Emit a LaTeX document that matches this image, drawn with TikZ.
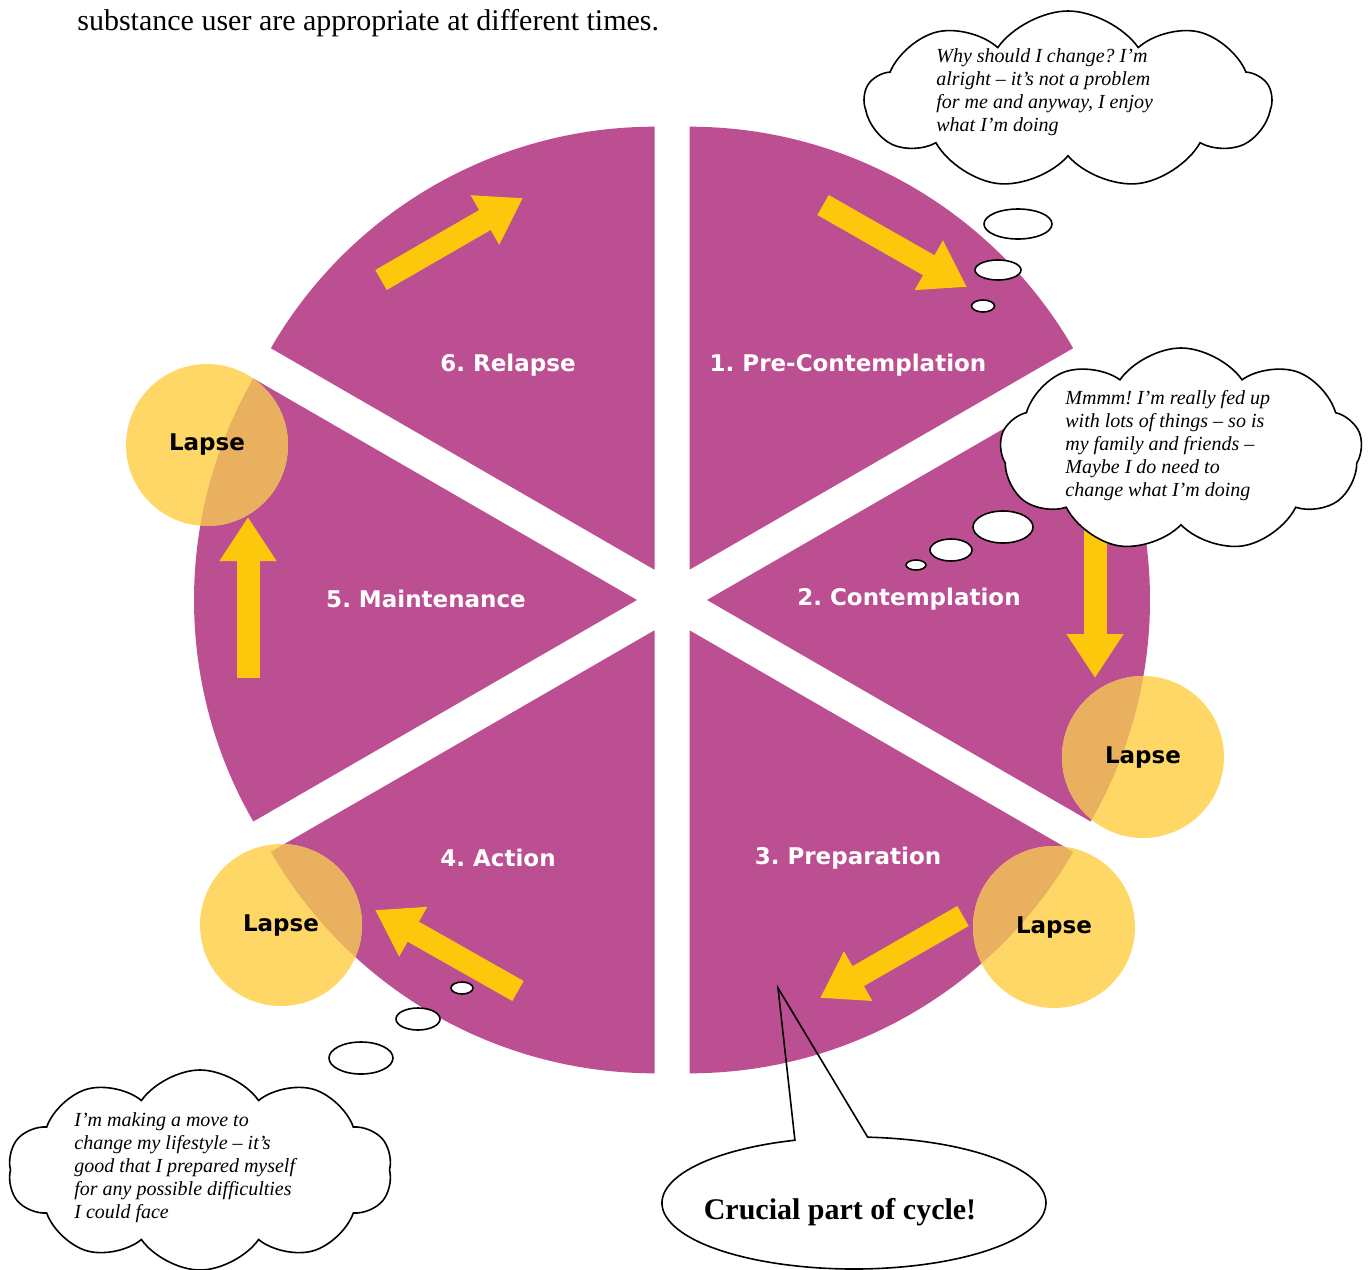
\documentclass[tikz,border=0pt]{standalone}
\usepackage{fontspec}
\setmainfont{Liberation Serif}
\newfontfamily\stagefont{DejaVu Sans}
\usetikzlibrary{arrows.meta,shapes.symbols,shapes.callouts}
\definecolor{stagepink}{RGB}{188,79,145}
\definecolor{arrowgold}{RGB}{253,200,12}
\definecolor{lapseyellow}{RGB}{254,215,102}
\definecolor{lapseover}{RGB}{233,176,95}
\frenchspacing

\begin{document}
\begin{tikzpicture}[x=0.5pt,y=0.5pt,
  wedge/.style={insert path={([shift={(#1:35)}]672,-600) -- ++(#1+30:443) arc[start angle=#1+30,end angle=#1-30,radius=443] -- cycle}},
  stagelabel/.style={text=white,font=\stagefont\bfseries\fontsize{11.5}{13}\selectfont},
  cyclearrow/.style={draw=arrowgold,line width=11.5pt,-{Triangle[length=22pt,width=27pt]}},
  lapse/.style={circle,minimum size=81pt,inner sep=0pt,font=\stagefont\bfseries\fontsize{11.5}{13}\selectfont},
  thought/.style={cloud,draw,fill=white,line width=0.8pt,cloud ignores aspect,cloud puffs=9,cloud puff arc=110},
  bubble/.style={draw,fill=white,line width=0.8pt},
  saying/.style={anchor=north west,inner sep=0pt,align=left,font=\itshape\fontsize{10}{11.5}\selectfont},
]
\useasboundingbox (0,0) rectangle (1372,-1270);
\node[anchor=base west,inner sep=0pt,font=\fontsize{15}{17}\selectfont] (intro) at (77,-30) {substance user are appropriate at different times.};

\foreach \b in {60,0,-60,-120,180,120} \fill[stagepink,wedge=\b];

\node[stagelabel] (precon) at (848,-365) {1. Pre-Contemplation};
\node[stagelabel] (contem) at (909,-599) {2. Contemplation};
\node[stagelabel] (prep) at (848,-858) {3. Preparation};
\node[stagelabel] (action) at (498,-858) {4. Action};
\node[stagelabel] (maint) at (426,-599) {5. Maintenance};
\node[stagelabel] (relapse) at (508,-365) {6. Relapse};

\draw[cyclearrow] (823,-205) -- (967,-287);
\draw[cyclearrow] (1095,-530) -- (1095,-678);
\draw[cyclearrow] (963,-916) -- (820,-998);
\draw[cyclearrow] (518,-991) -- (375,-910);
\draw[cyclearrow] (248,-678) -- (248,-517);
\draw[cyclearrow] (381,-280) -- (523,-198);

\foreach \x/\y [count=\i] in {207/445,1143/757,1054/927,281/925}{
  \fill[lapseyellow] (\x,-\y) circle[radius=81];
  \begin{scope}
    \clip (\x,-\y) circle[radius=81];
    \foreach \b in {60,0,-60,-120,180,120} \fill[lapseover,wedge=\b];
  \end{scope}
  \node[lapse] (lapse\i) at (\x,-\y) {Lapse};
}

% thought trails
\foreach \x/\y/\rx/\ry in {1018/224/34/15, 998/270/23/10, 983/306/11.5/6,
                            1003/527/30/16, 951/550/21/11, 916/565/10/5,
                            361/1058/32/16, 418/1019/22/11, 462/988/11/6}
  \draw[bubble] (\x,-\y) ellipse[x radius=\rx,y radius=\ry];

\node[thought,minimum width=203pt,minimum height=89pt] (think1) at (1068,-100) {};
\node[saying] (say1) at (936,-48)
  {Why should I change? I’m\\alright -- it’s not a problem\\for me and anyway, I enjoy\\what I’m doing};
\node[thought,minimum width=181pt,minimum height=102pt] (think2) at (1181,-450) {};
\node[saying] (say2) at (1065,-390)
  {Mmmm! I’m really fed up\\with lots of things -- so is\\my family and friends --\\Maybe I do need to\\change what I’m doing};
\node[thought,cloud puffs=10,minimum width=192pt,minimum height=100pt] (think3) at (200,-1170) {};
\node[saying] (say3) at (74,-1112)
  {I’m making a move to\\change my lifestyle -- it’s\\good that I prepared myself\\for any possible difficulties\\I could face};

\node[ellipse callout,draw,line width=0.8pt,inner sep=0pt,minimum width=192pt,minimum height=66pt,
  callout absolute pointer={(778,-988)},callout pointer arc=22] (crucial) at (854,-1203) {};
\node[anchor=base,inner sep=0pt,font=\bfseries\fontsize{15}{17}\selectfont] (crucialtext) at (840,-1219) {Crucial part of cycle!};
\end{tikzpicture}
\end{document}
